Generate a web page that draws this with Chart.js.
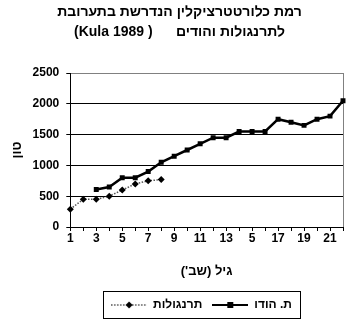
<!DOCTYPE html>
<html><head><meta charset="utf-8">
<script src="https://cdn.jsdelivr.net/npm/chart.js@4/dist/chart.umd.min.js"></script>
<style>html,body{margin:0;padding:0;background:#fff}#wrap{width:352px;height:325px}</style>
</head><body><div id="wrap"><canvas id="c" width="352" height="325"></canvas></div>
<script>
const weeks = ['1','2','3','4','5','6','7','8','9','10','11','12','13','14','15','16','17','18','19','20','21','22'];
const xTickLabels = ['1','','3','','5','','7','','9','','11','','13','','5','','17','','19','','21',''];
const chickens = [290,450,450,500,600,700,750,770,null,null,null,null,null,null,null,null,null,null,null,null,null,null];
const turkeys = [null,null,610,650,800,800,900,1050,1150,1250,1350,1450,1450,1550,1550,1550,1750,1700,1650,1750,1800,2050];
const yMin = 0, yMax = 2500, yStep = 500;
const titleLines = ['רמת כלורטטרציקלין הנדרשת בתערובת', '(Kula 1989 )      לתרנגולות והודים'];
const xTitle = '\u202Bגיל (שב\')\u202C';
const yTitle = 'טון';
const seriesNames = ['תרנגולות', 'ת. הודו'];

Chart.defaults.font.family = '"Liberation Sans", Arial, sans-serif';
Chart.defaults.font.weight = 'bold';
Chart.defaults.color = '#000';

function marker(kind){
  const c = document.createElement('canvas');
  c.width = 36; c.height = 10;
  const g = c.getContext('2d');
  if (kind === 'chick'){
    g.strokeStyle = '#555'; g.lineWidth = 1.5; g.setLineDash([1.5,1.5]);
    g.beginPath(); g.moveTo(0,5); g.lineTo(36,5); g.stroke();
    g.fillStyle = '#000'; g.beginPath(); g.moveTo(18,1.5); g.lineTo(21.5,5); g.lineTo(18,8.5); g.lineTo(14.5,5); g.closePath(); g.fill();
  } else {
    g.strokeStyle = '#000'; g.lineWidth = 2;
    g.beginPath(); g.moveTo(0,5); g.lineTo(36,5); g.stroke();
    g.fillStyle = '#000'; g.fillRect(15,2,6,6);
  }
  return c;
}
const markers = [marker('chick'), marker('turkey')];

const tweak = {
  id: 'tweak',
  afterLayout(chart){
    chart.titleBlock.left += 8; chart.titleBlock.right += 8;
    chart.legend.left += 30; chart.legend.right += 30;
  },
  beforeDatasetsDraw(chart){
    const {ctx, chartArea: a} = chart;
    ctx.save(); ctx.strokeStyle = '#808080'; ctx.lineWidth = 1;
    ctx.beginPath(); ctx.moveTo(Math.round(a.right)+0.5, a.top); ctx.lineTo(Math.round(a.right)+0.5, a.bottom); ctx.stroke();
    ctx.restore();
  },
  afterDraw(chart){
    const hb = chart.legend.legendHitBoxes;
    if (!hb || !hb.length) return;
    let l = Infinity, r = -Infinity, t = Infinity, b = -Infinity;
    hb.forEach(h => { l = Math.min(l, h.left); r = Math.max(r, h.left + h.width); t = Math.min(t, h.top); b = Math.max(b, h.top + h.height); });
    const ctx = chart.ctx;
    ctx.save(); ctx.strokeStyle = '#000'; ctx.lineWidth = 1;
    ctx.strokeRect(Math.round(l - 8) + 0.5, Math.round(t - 8) + 0.5, Math.round(r - l + 16), Math.round(b - t + 15));
    ctx.restore();
  }
};

new Chart(document.getElementById('c'), {
  type: 'line',
  data: {
    labels: weeks,
    datasets: [
      { label: seriesNames[0], data: chickens, borderColor: '#555', borderWidth: 1.5, borderDash: [1.5,1.5],
        pointStyle: 'rectRot', pointRadius: 3.5, pointBackgroundColor: '#000', pointBorderColor: '#000', pointBorderWidth: 0, tension: 0, spanGaps: false },
      { label: seriesNames[1], data: turkeys, borderColor: '#000', borderWidth: 2.5,
        pointStyle: 'rect', pointRadius: 3.5, pointBackgroundColor: '#000', pointBorderColor: '#000', pointBorderWidth: 0, tension: 0, spanGaps: false }
    ]
  },
  options: {
    responsive: false, animation: false, devicePixelRatio: 1,
    layout: { padding: { left: 0, right: 9, top: 0, bottom: 4 } },
    plugins: {
      tooltip: { enabled: false },
      title: { display: true, text: titleLines, font: { size: 14, weight: 'bold', lineHeight: '20px' }, padding: { top: 2, bottom: 31 } },
      legend: {
        position: 'bottom',
        labels: {
          usePointStyle: true, pointStyleWidth: 36, padding: 10, font: { size: 12, weight: 'bold' },
          generateLabels(chart){
            return chart.data.datasets.map((ds, i) => ({ text: ds.label, pointStyle: markers[i], datasetIndex: i, hidden: false, lineWidth: 0, fontColor: '#000' }));
          }
        }
      }
    },
    scales: {
      x: {
        offset: false,
        grid: { display: true, drawOnChartArea: false, tickLength: 4, color: '#000' },
        border: { color: '#000', width: 1 },
        ticks: { autoSkip: false, maxRotation: 0, padding: 0, font: { size: 12, weight: 'bold' },
          callback: (v, i) => xTickLabels[i] },
        title: { display: true, text: xTitle, font: { size: 13, weight: 'bold' }, padding: { top: 18, bottom: 10 } }
      },
      y: {
        min: yMin, max: yMax,
        grid: { color: c => (c.tick && c.tick.value === yMax) ? '#808080' : '#000', tickColor: '#000', tickLength: 4 },
        border: { color: '#000', width: 1 },
        ticks: { stepSize: yStep, padding: 7, font: { size: 12, weight: 'bold' }, callback: v => String(v) },
        title: { display: true, text: yTitle, font: { size: 13, weight: 'bold' }, padding: { top: 10, bottom: 0 } }
      }
    }
  },
  plugins: [tweak]
});
</script></body></html>
